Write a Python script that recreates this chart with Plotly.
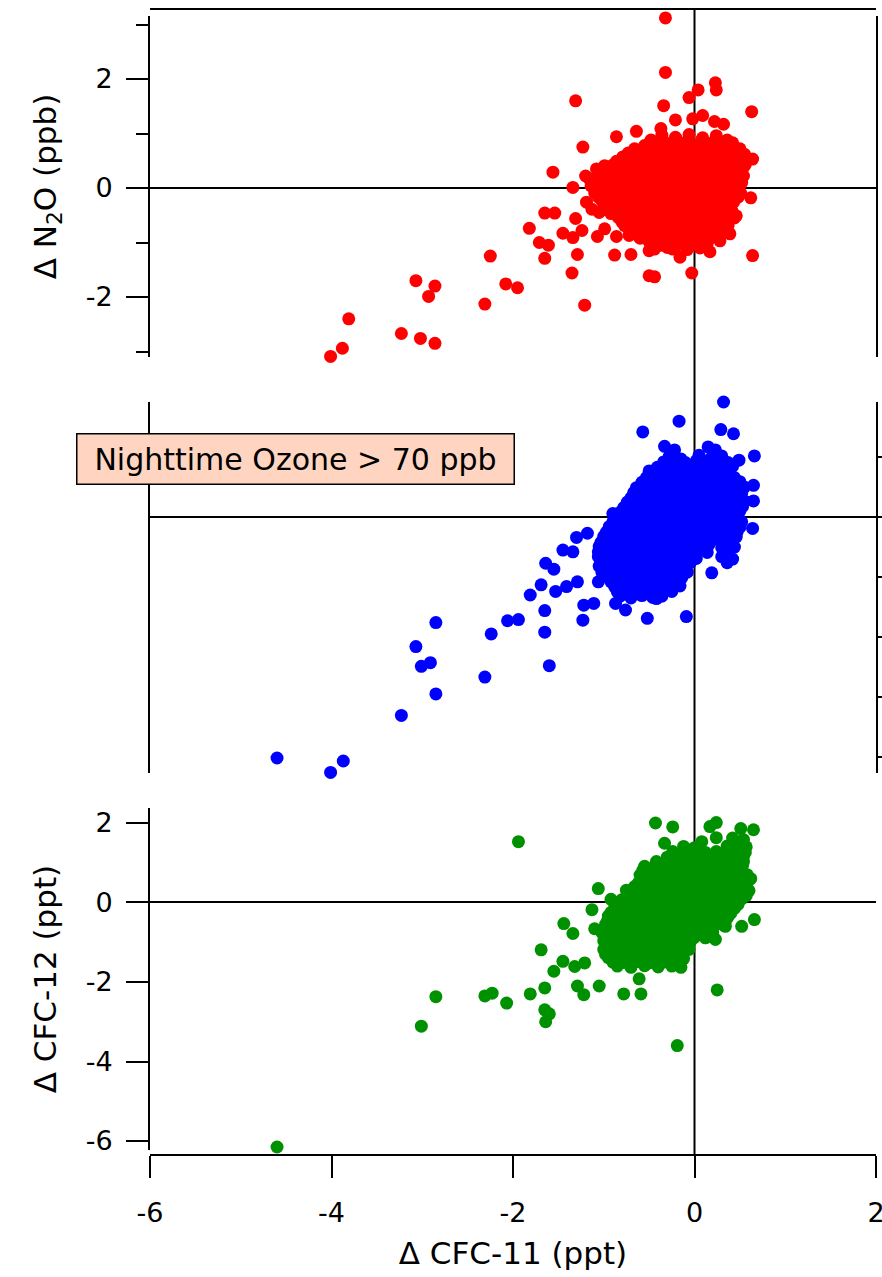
import plotly.graph_objects as go

# ---------------- data ----------------
# Top panel: delta N2O (ppb) vs delta CFC-11 (ppt)
n2o_cfc11 = [
    -0.32, -0.32, -1.31, -0.34, -0.06, 0.04, 0.23, 0.24, 0.63, -0.64,
    -0.86, -1.23, -0.77, -1.56, -1.34, -0.37, -0.21, 0.22, 0.32, 0.64,
    0.62, 0.64, -0.03, -0.50, -0.44, -0.16, 0.17, -0.70, -0.88, -1.29,
    -1.35, -1.21, -1.65, -1.54, -1.31, -1.82, -1.45, -1.34, -1.24, -1.07,
    -0.99, -0.86, -1.71, -1.61, -1.65, -2.25, -2.08, -1.95, -2.31, -3.07,
    -2.86, -2.93, -3.23, -3.02, -2.86, -3.81, -3.88, -4.01, 0.09, -0.02,
    -1.08, -0.99, -1.16, 0.50, 0.53, 0.52, 0.35, 0.46, 0.37, 0.39,
    0.28, -0.24, -0.50, -0.72, -1.19, -1.13, -1.05,
    -0.36, -0.21, -0.06, 0.09, 0.24,
    -0.55, -0.41, -0.27, -0.13, 0.01, 0.15, 0.29, 0.42,
    -0.73, -0.60, -0.47, -0.33, -0.19, -0.06, 0.07, 0.20, 0.33, 0.45, 0.55,
    -0.86, -0.71, -0.58, -0.44, -0.30, -0.17, -0.04, 0.09, 0.22, 0.35, 0.47, 0.57,
    -0.92, -0.78, -0.64, -0.50, -0.37, -0.24, -0.11, 0.02, 0.15, 0.28, 0.41, 0.52,
    -1.20, -1.05, -0.90, -0.76, -0.62, -0.49, -0.36, -0.23, -0.10, 0.03, 0.16, 0.29, 0.42, 0.54,
    -1.14, -0.96, -0.82, -0.68, -0.55, -0.42, -0.29, -0.16, -0.03, 0.10, 0.23, 0.36, 0.49,
    -1.10, -0.92, -0.78, -0.65, -0.52, -0.39, -0.26, -0.13, 0.00, 0.13, 0.26, 0.39, 0.51,
    -1.02, -0.88, -0.74, -0.61, -0.48, -0.35, -0.22, -0.09, 0.04, 0.17, 0.30, 0.43,
    -1.00, -0.88, -0.75, -0.62, -0.49, -0.36, -0.23, -0.10, 0.03, 0.16, 0.29, 0.41,
    -0.84, -0.70, -0.57, -0.44, -0.31, -0.18, -0.05, 0.08, 0.21, 0.34, 0.44,
    -0.77, -0.63, -0.50, -0.37, -0.24, -0.11, 0.02, 0.15, 0.28,
    -0.67, -0.54, -0.41, -0.28, -0.15, -0.02, 0.11, 0.23,
    -0.50, -0.37, -0.24, -0.11, 0.02, 0.14,
    -0.44, -0.30, -0.08, 0.06,
    -0.48, -0.34, -0.20, -0.06, 0.08, 0.22, 0.36,
    -0.66, -0.53, -0.40, -0.26, -0.12, 0.01, 0.14, 0.27, 0.39, 0.50,
    -0.79, -0.65, -0.52, -0.38, -0.24, -0.11, 0.02, 0.15, 0.28, 0.41, 0.52,
    -0.90, -0.75, -0.61, -0.47, -0.33, -0.20, -0.07, 0.06, 0.19, 0.32, 0.45, 0.56,
    -1.00, -0.85, -0.71, -0.57, -0.43, -0.30, -0.17, -0.04, 0.09, 0.22, 0.35, 0.48,
    -1.10, -0.97, -0.83, -0.69, -0.56, -0.43, -0.30, -0.17, -0.04, 0.09, 0.22, 0.35, 0.48,
    -1.03, -0.87, -0.74, -0.61, -0.48, -0.35, -0.22, -0.09, 0.04, 0.17, 0.30, 0.44,
    -1.06, -0.95, -0.81, -0.68, -0.55, -0.42, -0.29, -0.16, -0.03, 0.10, 0.23, 0.36, 0.48,
    -0.94, -0.81, -0.68, -0.55, -0.42, -0.29, -0.16, -0.03, 0.10, 0.23, 0.36,
    -0.92, -0.77, -0.63, -0.50, -0.37, -0.24, -0.11, 0.02, 0.15, 0.28, 0.39,
    -0.80, -0.66, -0.53, -0.40, -0.27, -0.14, -0.01, 0.12, 0.25, 0.37,
    -0.72, -0.58, -0.45, -0.32, -0.19, -0.06, 0.07, 0.20, 0.32,
    -0.60, -0.47, -0.34, -0.21, -0.08, 0.05, 0.18,
    -0.37, -0.20, -0.02,
]
n2o = [
    3.12, 2.12, 1.60, 1.51, 1.66, 1.80, 1.93, 1.80, 1.40, 1.04,
    0.94, 0.75, 0.53, 0.29, 0.01, 1.09, 1.25, 1.22, 1.17, 0.53,
    -0.18, -1.24, -1.56, -1.61, -1.63, -1.27, -1.17, -1.22, -1.23, -1.22,
    -1.56, -2.15, -0.46, -0.46, -0.56, -0.74, -0.83, -0.91, -0.78, -0.89,
    -0.75, -0.89, -1.00, -1.05, -1.29, -1.25, -1.76, -1.83, -2.13, -1.70,
    -1.80, -1.99, -2.67, -2.76, -2.85, -2.40, -2.94, -3.09, 1.33, 1.27,
    0.35, 0.41, 0.17, 0.65, 0.35, 0.10, -0.26, -0.51, -0.69, -0.84,
    -0.97, -1.12, -1.15, -0.87, -0.26, -0.39, -0.45,
    0.97, 0.93, 0.98, 0.92, 0.96,
    0.78, 0.83, 0.79, 0.82, 0.77, 0.81, 0.79, 0.83,
    0.64, 0.67, 0.63, 0.66, 0.64, 0.68, 0.63, 0.66, 0.64, 0.67, 0.62,
    0.49, 0.52, 0.48, 0.51, 0.49, 0.53, 0.48, 0.51, 0.49, 0.52, 0.48, 0.50,
    0.34, 0.37, 0.33, 0.36, 0.34, 0.37, 0.33, 0.36, 0.34, 0.37, 0.33, 0.36,
    0.22, 0.19, 0.21, 0.18, 0.22, 0.19, 0.21, 0.18, 0.22, 0.20, 0.18, 0.21, 0.19, 0.22,
    0.04, 0.06, 0.03, 0.07, 0.04, 0.06, 0.03, 0.07, 0.04, 0.06, 0.03, 0.07, 0.05,
    -0.09, -0.12, -0.08, -0.11, -0.09, -0.12, -0.08, -0.11, -0.09, -0.12, -0.08, -0.11, -0.10,
    -0.24, -0.27, -0.23, -0.26, -0.24, -0.27, -0.23, -0.26, -0.24, -0.27, -0.23, -0.26,
    -0.39, -0.42, -0.38, -0.41, -0.39, -0.42, -0.38, -0.41, -0.39, -0.42, -0.38, -0.41,
    -0.54, -0.57, -0.53, -0.56, -0.54, -0.57, -0.53, -0.56, -0.54, -0.57, -0.55,
    -0.69, -0.72, -0.68, -0.71, -0.69, -0.72, -0.68, -0.71, -0.69,
    -0.84, -0.87, -0.83, -0.86, -0.84, -0.87, -0.83, -0.86,
    -0.99, -1.02, -0.98, -1.01, -0.99, -1.02,
    -1.12, -1.09, -1.13, -1.10,
    0.88, 0.86, 0.90, 0.87, 0.89, 0.86, 0.88,
    0.72, 0.74, 0.71, 0.73, 0.72, 0.70, 0.74, 0.71, 0.73, 0.72,
    0.57, 0.55, 0.58, 0.56, 0.57, 0.59, 0.55, 0.58, 0.56, 0.57, 0.56,
    0.42, 0.44, 0.41, 0.43, 0.42, 0.44, 0.40, 0.43, 0.41, 0.44, 0.42, 0.43,
    0.28, 0.26, 0.29, 0.27, 0.28, 0.26, 0.29, 0.27, 0.28, 0.26, 0.29, 0.27,
    0.12, 0.13, 0.11, 0.14, 0.12, 0.13, 0.11, 0.14, 0.12, 0.13, 0.11, 0.14, 0.12,
    -0.03, -0.02, -0.04, -0.01, -0.03, -0.02, -0.04, -0.01, -0.03, -0.02, -0.04, -0.02,
    -0.17, -0.18, -0.16, -0.19, -0.17, -0.18, -0.16, -0.19, -0.17, -0.18, -0.16, -0.19, -0.17,
    -0.32, -0.33, -0.31, -0.34, -0.32, -0.33, -0.31, -0.34, -0.32, -0.33, -0.31,
    -0.47, -0.48, -0.46, -0.49, -0.47, -0.48, -0.46, -0.49, -0.47, -0.48, -0.46,
    -0.62, -0.63, -0.61, -0.64, -0.62, -0.63, -0.61, -0.64, -0.62, -0.63,
    -0.77, -0.78, -0.76, -0.79, -0.77, -0.78, -0.76, -0.79, -0.77,
    -0.92, -0.93, -0.91, -0.94, -0.92, -0.93, -0.91,
    -1.05, -1.06, -1.04,
]

# Middle panel: unlabeled quantity vs delta CFC-11 (ppt)
mid_cfc11 = [
    0.32, -0.17, -0.57, 0.29, 0.43, 0.66, -0.33, -0.22, 0.15, 0.23,
    -0.50, 0.49, 0.65, 0.65, 0.64, -0.90, 0.19, 0.39, -0.09, -0.52,
    -1.18, -1.30, -1.45, -1.34, -1.64, -1.55, -1.69, -1.81, -1.53, -1.41,
    -1.29, -1.22, -1.11, -1.23, -0.87, -0.76, -0.42, -0.39, -1.06, -0.98,
    -1.65, -1.65, -2.06, -1.94, -2.24, -2.85, -3.07, -3.01, -2.91, -2.85,
    -2.31, -1.60, -3.23, -4.60, -3.87, -4.01,
    -0.28, -0.15, 0.05, 0.18, 0.30,
    -0.41, -0.29, -0.16, -0.04, 0.08, 0.21, 0.32, 0.42,
    -0.53, -0.40, -0.28, -0.16, -0.04, 0.08, 0.20, 0.32, 0.44,
    -0.64, -0.52, -0.40, -0.28, -0.16, -0.04, 0.08, 0.20, 0.32, 0.44, 0.55,
    -0.70, -0.58, -0.46, -0.34, -0.22, -0.10, 0.02, 0.14, 0.26, 0.38, 0.50,
    -0.78, -0.66, -0.54, -0.42, -0.30, -0.18, -0.06, 0.06, 0.18, 0.30, 0.42, 0.53,
    -0.86, -0.74, -0.62, -0.50, -0.38, -0.26, -0.14, -0.02, 0.10, 0.22, 0.34, 0.46,
    -0.94, -0.82, -0.70, -0.58, -0.46, -0.34, -0.22, -0.10, 0.02, 0.14, 0.26, 0.38, 0.50,
    -1.00, -0.88, -0.76, -0.64, -0.52, -0.40, -0.28, -0.16, -0.04, 0.08, 0.20, 0.32, 0.46,
    -1.05, -0.93, -0.81, -0.69, -0.57, -0.45, -0.33, -0.21, -0.09, 0.03, 0.15, 0.30, 0.44,
    -1.06, -0.94, -0.82, -0.70, -0.58, -0.46, -0.34, -0.22, -0.10, 0.02, 0.30, 0.42,
    -1.05, -0.93, -0.81, -0.69, -0.57, -0.45, -0.33, -0.21, -0.09,
    -0.98, -0.86, -0.74, -0.62, -0.50, -0.38, -0.26, -0.14,
    -0.88, -0.76, -0.64, -0.52, -0.40, -0.28, -0.16,
    -0.82, -0.70, -0.58, -0.46, -0.36,
    -0.34, -0.22, -0.10, 0.02, 0.14, 0.26, 0.37,
    -0.47, -0.35, -0.22, -0.10, 0.02, 0.14, 0.26, 0.38,
    -0.58, -0.46, -0.34, -0.22, -0.10, 0.02, 0.14, 0.26, 0.38, 0.50,
    -0.67, -0.55, -0.43, -0.31, -0.19, -0.07, 0.05, 0.17, 0.29, 0.41, 0.52,
    -0.74, -0.62, -0.50, -0.38, -0.26, -0.14, -0.02, 0.10, 0.22, 0.34, 0.46, 0.55,
    -0.82, -0.70, -0.58, -0.46, -0.34, -0.22, -0.10, 0.02, 0.14, 0.26, 0.38, 0.50,
    -0.90, -0.78, -0.66, -0.54, -0.42, -0.30, -0.18, -0.06, 0.06, 0.18, 0.30, 0.42, 0.52,
    -0.97, -0.85, -0.73, -0.61, -0.49, -0.37, -0.25, -0.13, -0.01, 0.11, 0.23, 0.35, 0.47,
    -1.03, -0.91, -0.79, -0.67, -0.55, -0.43, -0.31, -0.19, -0.07, 0.05, 0.17, 0.29, 0.41,
    -1.06, -0.94, -0.82, -0.70, -0.58, -0.46, -0.34, -0.22, -0.10, 0.02, 0.14, 0.36,
    -1.00, -0.88, -0.76, -0.64, -0.52, -0.40, -0.28, -0.16, -0.04, 0.36,
    -1.02, -0.90, -0.78, -0.66, -0.54, -0.42, -0.30, -0.18, -0.08,
    -0.92, -0.80, -0.68, -0.56, -0.44, -0.32, -0.20,
    -0.85, -0.73, -0.61, -0.49, -0.37, -0.25,
]
mid_val = [
    1.92, 1.60, 1.42, 1.46, 1.39, 1.02, 1.18, 1.12, 1.17, 1.12,
    0.77, 0.95, 0.53, 0.27, -0.19, 0.06, -0.93, -0.69, -1.66, -1.69,
    -0.27, -0.34, -0.55, -0.58, -0.77, -0.87, -1.13, -1.30, -1.24, -1.16,
    -1.08, -1.47, -1.44, -1.72, -1.44, -1.55, -1.36, -1.27, -1.08, -0.97,
    -1.56, -1.92, -1.73, -1.71, -1.95, -1.76, -2.16, -2.49, -2.43, -2.95,
    -2.67, -2.48, -3.31, -4.02, -4.07, -4.26,
    1.01, 0.97, 1.03, 0.98, 1.02,
    0.83, 0.86, 0.82, 0.85, 0.83, 0.86, 0.82, 0.85,
    0.66, 0.69, 0.65, 0.68, 0.66, 0.69, 0.65, 0.68, 0.66,
    0.49, 0.52, 0.48, 0.51, 0.49, 0.52, 0.48, 0.51, 0.49, 0.52, 0.50,
    0.32, 0.35, 0.31, 0.34, 0.32, 0.35, 0.31, 0.34, 0.32, 0.35, 0.33,
    0.16, 0.19, 0.15, 0.18, 0.16, 0.19, 0.15, 0.18, 0.16, 0.19, 0.15, 0.18,
    0.01, -0.02, 0.02, -0.01, 0.01, -0.02, 0.02, -0.01, 0.01, -0.02, 0.02, -0.01,
    -0.16, -0.19, -0.15, -0.18, -0.16, -0.19, -0.15, -0.18, -0.16, -0.19, -0.15, -0.18, -0.17,
    -0.32, -0.35, -0.31, -0.34, -0.32, -0.35, -0.31, -0.34, -0.32, -0.35, -0.31, -0.34, -0.33,
    -0.49, -0.52, -0.48, -0.51, -0.49, -0.52, -0.48, -0.51, -0.49, -0.52, -0.48, -0.51, -0.50,
    -0.66, -0.69, -0.65, -0.68, -0.66, -0.69, -0.65, -0.68, -0.66, -0.69, -0.66, -0.70,
    -0.82, -0.85, -0.81, -0.84, -0.82, -0.85, -0.81, -0.84, -0.82,
    -0.99, -1.02, -0.98, -1.01, -0.99, -1.02, -0.98, -1.01,
    -1.16, -1.19, -1.15, -1.18, -1.16, -1.19, -1.15,
    -1.32, -1.35, -1.31, -1.34, -1.32,
    0.92, 0.93, 0.91, 0.94, 0.92, 0.93, 0.91,
    0.75, 0.76, 0.74, 0.77, 0.75, 0.76, 0.74, 0.77,
    0.58, 0.59, 0.57, 0.60, 0.58, 0.59, 0.57, 0.60, 0.58, 0.59,
    0.41, 0.42, 0.40, 0.43, 0.41, 0.42, 0.40, 0.43, 0.41, 0.42, 0.40,
    0.25, 0.26, 0.24, 0.27, 0.25, 0.26, 0.24, 0.27, 0.25, 0.26, 0.24, 0.27,
    0.08, 0.09, 0.07, 0.10, 0.08, 0.09, 0.07, 0.10, 0.08, 0.09, 0.07, 0.10,
    -0.08, -0.07, -0.09, -0.06, -0.08, -0.07, -0.09, -0.06, -0.08, -0.07, -0.09, -0.06, -0.08,
    -0.25, -0.24, -0.26, -0.23, -0.25, -0.24, -0.26, -0.23, -0.25, -0.24, -0.26, -0.23, -0.25,
    -0.42, -0.41, -0.43, -0.40, -0.42, -0.41, -0.43, -0.40, -0.42, -0.41, -0.43, -0.40, -0.42,
    -0.58, -0.57, -0.59, -0.56, -0.58, -0.57, -0.59, -0.56, -0.58, -0.57, -0.59, -0.58,
    -0.75, -0.74, -0.76, -0.73, -0.75, -0.74, -0.76, -0.73, -0.75, -0.76,
    -0.92, -0.91, -0.93, -0.90, -0.92, -0.91, -0.93, -0.90, -0.92,
    -1.08, -1.07, -1.09, -1.06, -1.08, -1.07, -1.09,
    -1.25, -1.24, -1.26, -1.23, -1.25, -1.24,
]

# Bottom panel: delta CFC-12 (ppt) vs delta CFC-11 (ppt)
cfc12_cfc11 = [
    -0.06, -0.43, -0.24, 0.24, 0.17, 0.24, 0.08, -0.33, 0.51, 0.65,
    -1.94, 0.62, 0.66, 0.52, -1.06, -0.92, -1.13, -0.75, -1.44, -1.34,
    -1.10, -1.69, -1.55, -1.45, -1.32, -1.21, -1.65, -1.29, -1.22, -1.05,
    -0.78, -0.59, -0.61, -1.81, -2.07, -2.31, -2.23, -2.85, -3.01, -1.65,
    -1.60, -1.64, 0.25, -0.19, -4.60, 0.23, 0.34,
    0.42, 0.54,
    -0.12, 0.00, 0.36, 0.48, 0.57,
    -0.30, -0.18, -0.06, 0.06, 0.18, 0.30, 0.42, 0.54,
    -0.55, -0.43, -0.31, -0.19, -0.07, 0.05, 0.17, 0.29, 0.41, 0.53,
    -0.60, -0.48, -0.36, -0.24, -0.12, 0.00, 0.12, 0.24, 0.36, 0.48, 0.58,
    -0.62, -0.50, -0.38, -0.26, -0.14, -0.02, 0.10, 0.22, 0.34, 0.46, 0.58,
    -0.70, -0.58, -0.46, -0.34, -0.22, -0.10, 0.02, 0.14, 0.26, 0.38, 0.50, 0.60,
    -0.80, -0.68, -0.56, -0.44, -0.32, -0.20, -0.08, 0.04, 0.16, 0.28, 0.40, 0.52,
    -0.88, -0.76, -0.64, -0.52, -0.40, -0.28, -0.16, -0.04, 0.08, 0.20, 0.32, 0.44,
    -0.95, -0.83, -0.71, -0.59, -0.47, -0.35, -0.23, -0.11, 0.01, 0.13, 0.25, 0.37,
    -0.98, -0.86, -0.74, -0.62, -0.50, -0.38, -0.26, -0.14, -0.02, 0.10, 0.22, 0.32,
    -1.02, -0.90, -0.78, -0.66, -0.54, -0.42, -0.30, -0.18, -0.06, 0.06, 0.20,
    -1.00, -0.88, -0.76, -0.64, -0.52, -0.40, -0.28, -0.16, -0.04,
    -1.00, -0.88, -0.76, -0.64, -0.52, -0.40, -0.28, -0.16, -0.06,
    -0.95, -0.83, -0.71, -0.59, -0.47, -0.35, -0.23, -0.12,
    -0.85, -0.70, -0.55, -0.40, -0.25, -0.15,
    -0.24, -0.12, 0.00, 0.12, 0.24, 0.36, 0.48, 0.56,
    -0.42, -0.30, -0.18, -0.06, 0.06, 0.18, 0.30, 0.42, 0.54,
    -0.57, -0.45, -0.33, -0.21, -0.09, 0.03, 0.15, 0.27, 0.39, 0.51,
    -0.56, -0.44, -0.32, -0.20, -0.08, 0.04, 0.16, 0.28, 0.40, 0.52,
    -0.66, -0.54, -0.42, -0.30, -0.18, -0.06, 0.06, 0.18, 0.30, 0.42, 0.54,
    -0.74, -0.62, -0.50, -0.38, -0.26, -0.14, -0.02, 0.10, 0.22, 0.34, 0.46, 0.57,
    -0.84, -0.72, -0.60, -0.48, -0.36, -0.24, -0.12, 0.00, 0.12, 0.24, 0.36, 0.48,
    -0.92, -0.80, -0.68, -0.56, -0.44, -0.32, -0.20, -0.08, 0.04, 0.16, 0.28, 0.40,
    -0.96, -0.84, -0.72, -0.60, -0.48, -0.36, -0.24, -0.12, 0.00, 0.12, 0.24, 0.34,
    -1.00, -0.88, -0.76, -0.64, -0.52, -0.40, -0.28, -0.16, -0.04, 0.08, 0.20,
    -0.96, -0.84, -0.72, -0.60, -0.48, -0.36, -0.24, -0.12, 0.00, 0.12,
    -0.94, -0.82, -0.70, -0.58, -0.46, -0.34, -0.22, -0.10,
    -0.98, -0.86, -0.74, -0.62, -0.50, -0.38, -0.26, -0.14,
    -0.90, -0.78, -0.64, -0.50, -0.34, -0.20,
]
cfc12 = [
    2.39, 2.00, 1.90, 2.01, 1.91, 1.63, 1.53, 1.49, 1.86, 1.83,
    1.53, 0.60, -0.43, -0.60, 0.35, 0.08, -0.18, 0.31, -0.53, -0.78,
    -0.66, -1.19, -1.73, -1.48, -1.61, -1.52, -2.15, -2.10, -2.32, -2.10,
    -2.30, -2.30, -1.92, -2.30, -2.53, -2.35, -2.28, -2.37, -3.11, -2.70,
    -2.80, -3.00, -2.20, -3.60, -6.15, -0.93, -0.60,
    1.62, 1.58,
    1.41, 1.38, 1.42, 1.37, 1.40,
    1.14, 1.17, 1.13, 1.16, 1.14, 1.17, 1.13, 1.16,
    0.91, 0.94, 0.90, 0.93, 0.91, 0.94, 0.90, 0.93, 0.91, 0.94,
    0.69, 0.72, 0.68, 0.71, 0.69, 0.72, 0.68, 0.71, 0.69, 0.72, 0.70,
    0.49, 0.52, 0.48, 0.51, 0.49, 0.52, 0.48, 0.51, 0.49, 0.52, 0.50,
    0.28, 0.31, 0.27, 0.30, 0.28, 0.31, 0.27, 0.30, 0.28, 0.31, 0.27, 0.30,
    0.07, 0.10, 0.06, 0.09, 0.07, 0.10, 0.06, 0.09, 0.07, 0.10, 0.06, 0.09,
    -0.13, -0.16, -0.12, -0.15, -0.13, -0.16, -0.12, -0.15, -0.13, -0.16, -0.12, -0.15,
    -0.34, -0.37, -0.33, -0.36, -0.34, -0.37, -0.33, -0.36, -0.34, -0.37, -0.33, -0.36,
    -0.55, -0.58, -0.54, -0.57, -0.55, -0.58, -0.54, -0.57, -0.55, -0.58, -0.54, -0.57,
    -0.76, -0.79, -0.75, -0.78, -0.76, -0.79, -0.75, -0.78, -0.76, -0.79, -0.77,
    -0.97, -1.00, -0.96, -0.99, -0.97, -1.00, -0.96, -0.99, -0.97,
    -1.18, -1.21, -1.17, -1.20, -1.18, -1.21, -1.17, -1.20, -1.18,
    -1.39, -1.42, -1.38, -1.41, -1.39, -1.42, -1.38, -1.41,
    -1.60, -1.63, -1.59, -1.62, -1.60, -1.63,
    1.28, 1.27, 1.29, 1.26, 1.28, 1.27, 1.29, 1.26,
    1.03, 1.02, 1.04, 1.01, 1.03, 1.02, 1.04, 1.01, 1.03,
    0.81, 0.80, 0.82, 0.79, 0.81, 0.80, 0.82, 0.79, 0.81, 0.80,
    0.60, 0.59, 0.61, 0.58, 0.60, 0.59, 0.61, 0.58, 0.60, 0.59,
    0.40, 0.39, 0.41, 0.38, 0.40, 0.39, 0.41, 0.38, 0.40, 0.39, 0.41,
    0.19, 0.18, 0.20, 0.17, 0.19, 0.18, 0.20, 0.17, 0.19, 0.18, 0.20, 0.17,
    -0.03, -0.04, -0.02, -0.05, -0.03, -0.04, -0.02, -0.05, -0.03, -0.04, -0.02, -0.05,
    -0.25, -0.26, -0.24, -0.27, -0.25, -0.26, -0.24, -0.27, -0.25, -0.26, -0.24, -0.27,
    -0.46, -0.47, -0.45, -0.48, -0.46, -0.47, -0.45, -0.48, -0.46, -0.47, -0.45, -0.48,
    -0.67, -0.68, -0.66, -0.69, -0.67, -0.68, -0.66, -0.69, -0.67, -0.68, -0.66,
    -0.88, -0.89, -0.87, -0.90, -0.88, -0.89, -0.87, -0.90, -0.88, -0.89,
    -1.09, -1.10, -1.08, -1.11, -1.09, -1.10, -1.08, -1.11,
    -1.30, -1.31, -1.29, -1.32, -1.30, -1.31, -1.29, -1.32,
    -1.50, -1.51, -1.49, -1.52, -1.50, -1.51,
]

x_ticks = [-6, -4, -2, 0, 2]
x_ticktext = ["-6", "-4", "-2", "0", "2"]
n2o_ticks = [-2, 0, 2]
n2o_ticktext = ["-2", "0", "2"]
cfc12_ticks = [-6, -4, -2, 0, 2]
cfc12_ticktext = ["-6", "-4", "-2", "0", "2"]
annotation_text = "Nighttime Ozone > 70 ppb"

# ---------------- layout helpers ----------------
W, H = 882, 1277
ML, MR, MT, MB = 150, 6, 9, 122
PLOT_H = H - MT - MB


def py(p):
    return (H - MB - p) / PLOT_H


def px(p):
    return (p - ML) / (W - ML - MR)


FONT = "DejaVu Sans"
TICK_FONT = dict(family=FONT, size=27, color="black")
TITLE_FONT = dict(family=FONT, size=31, color="black")
MS = 13

fig = go.Figure()
fig.add_trace(go.Scatter(x=n2o_cfc11, y=n2o, mode="markers", xaxis="x2", yaxis="y2",
                         marker=dict(color="#FF0000", size=MS, line=dict(width=0)),
                         cliponaxis=False, showlegend=False))
fig.add_trace(go.Scatter(x=mid_cfc11, y=mid_val, mode="markers", xaxis="x3", yaxis="y3",
                         marker=dict(color="#0000FF", size=MS, line=dict(width=0)),
                         cliponaxis=False, showlegend=False))
fig.add_trace(go.Scatter(x=cfc12_cfc11, y=cfc12, mode="markers", xaxis="x", yaxis="y",
                         marker=dict(color="#009100", size=MS, line=dict(width=0)),
                         cliponaxis=False, showlegend=False))

common_x = dict(range=[-6, 2], domain=[0, 1], showgrid=False, zeroline=False)
fig.update_layout(
    template="none",
    width=W, height=H,
    margin=dict(l=ML, r=MR, t=MT, b=MB, autoexpand=False),
    paper_bgcolor="white", plot_bgcolor="rgba(0,0,0,0)",
    font=dict(family=FONT, color="black"),
    showlegend=False,
    # bottom x axis
    xaxis=dict(**common_x, anchor="free", position=0, showline=True, linecolor="black",
               linewidth=2, ticks="outside", ticklen=22, tickwidth=2, tickcolor="black",
               tickvals=x_ticks, ticktext=x_ticktext, tickfont=TICK_FONT,
               ticklabelstandoff=12, ticklabeloverflow="allow",
               title=dict(text="\u0394 CFC-11 (ppt)", font=TITLE_FONT, standoff=14),
               automargin=False),
    # top x axis (frame line only)
    xaxis2=dict(**common_x, anchor="free", position=1, side="top", showline=True,
                linecolor="black", linewidth=2, ticks="", showticklabels=False,
                matches="x", automargin=False),
    # middle x axis (invisible)
    xaxis3=dict(**common_x, anchor="y3", visible=False, matches="x"),
    # bottom y axis
    yaxis=dict(domain=[py(1150), py(808)], range=[-6.226, 2.377], anchor="x",
               showline=True, linecolor="black", linewidth=2, ticks="outside",
               ticklen=22, tickwidth=2, tickcolor="black", tickvals=cfc12_ticks,
               ticktext=cfc12_ticktext, tickfont=TICK_FONT, showgrid=False,
               zeroline=True, zerolinecolor="black", zerolinewidth=1.5,
               ticklabelstandoff=8,
               title=dict(text="\u0394 CFC-12 (ppt)", font=TITLE_FONT, standoff=20),
               automargin=False),
    # top y axis
    yaxis2=dict(domain=[py(357), py(16)], range=[-3.101, 3.156], anchor="x2",
                showline=True, mirror=True, linecolor="black", linewidth=2,
                ticks="outside", ticklen=22, tickwidth=2, tickcolor="black",
                tickvals=n2o_ticks, ticktext=n2o_ticktext, tickfont=TICK_FONT,
                showgrid=False,
                minor=dict(tickvals=[-3, -1, 1, 3], ticks="outside", ticklen=12,
                           tickwidth=2, tickcolor="black", showgrid=False),
                zeroline=True, zerolinecolor="black", zerolinewidth=1.5,
                ticklabelstandoff=8,
                title=dict(text="\u0394 N<sub>2</sub>O (ppb)", font=TITLE_FONT, standoff=20),
                automargin=False),
    # middle y axis (ticks on the right, no labels)
    yaxis3=dict(domain=[py(773), py(402)], range=[-4.27, 1.92], anchor="x3", side="right",
                showline=True, mirror=True, linecolor="black", linewidth=2,
                ticks="outside", ticklen=14, tickwidth=2, tickcolor="black",
                dtick=1, tick0=0, showticklabels=False, showgrid=False,
                zeroline=True, zerolinecolor="black", zerolinewidth=1.5,
                automargin=False),
)

# vertical zero line of delta CFC-11 running through all three panels
fig.add_shape(type="line", xref="x", x0=0, x1=0, yref="paper", y0=0, y1=1,
              line=dict(color="black", width=2), layer="below")

fig.add_annotation(text=annotation_text, xref="paper", yref="paper",
                   x=px(295), y=py(459.5), xanchor="center", yanchor="middle",
                   showarrow=False, font=dict(family=FONT, size=30, color="black"),
                   bgcolor="#FFD5C1", bordercolor="black", borderwidth=1.5,
                   borderpad=2, width=432, height=45)

fig.write_html("out.html")
